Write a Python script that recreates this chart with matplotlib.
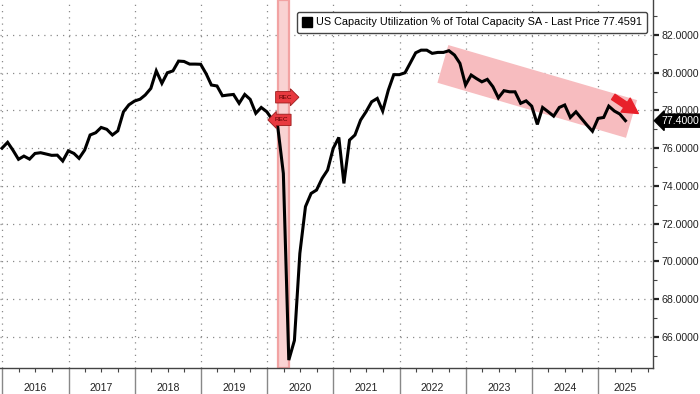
import numpy as np
import pandas as pd
import matplotlib
matplotlib.use("Agg")
import matplotlib.pyplot as plt
import matplotlib.dates as mdates
from matplotlib.lines import Line2D
from matplotlib.patches import Polygon
from matplotlib.ticker import FixedLocator, NullFormatter

plt.rcParams['font.family'] = ['Liberation Sans', 'DejaVu Sans']

# Monthly capacity utilization (month-end), Dec 2015 .. May 2025
util_2015 = [76.0]
util_2016 = [76.31, 75.9, 75.41, 75.58, 75.42, 75.72, 75.76, 75.69, 75.62, 75.63, 75.32, 75.86]
util_2017 = [75.72, 75.46, 75.9, 76.7, 76.82, 77.1, 77.0, 76.7, 76.92, 77.93, 78.3, 78.5]
util_2018 = [78.6, 78.82, 79.17, 80.1, 79.44, 80.0, 80.1, 80.62, 80.6, 80.46, 80.46, 80.45]
util_2019 = [79.93, 79.35, 79.3, 78.78, 78.82, 78.85, 78.38, 78.85, 78.59, 77.85, 78.16, 77.93]
util_2020 = [77.5, 77.14, 74.66, 64.76, 65.8, 70.42, 72.9, 73.6, 73.78, 74.4, 74.84, 75.99]
util_2021 = [76.57, 74.13, 76.43, 76.7, 77.49, 77.93, 78.46, 78.64, 77.97, 79.08, 79.9, 79.9]
util_2022 = [80.0, 80.5, 81.06, 81.2, 81.2, 81.03, 81.08, 81.08, 81.17, 80.94, 80.5, 79.35]
util_2023 = [79.88, 79.7, 79.52, 79.65, 79.26, 78.67, 79.05, 78.99, 78.99, 78.38, 78.51, 78.23]
util_2024 = [77.26, 78.16, 77.93, 77.7, 78.16, 78.29, 77.63, 77.93, 77.58, 77.22, 76.9, 77.58]
util_2025 = [77.63, 78.23, 77.97, 77.81, 77.46]

values = (util_2015 + util_2016 + util_2017 + util_2018 + util_2019 + util_2020
          + util_2021 + util_2022 + util_2023 + util_2024 + util_2025)
dates = pd.date_range('2015-12-31', periods=len(values), freq='ME')

years = list(range(2016, 2026))
y_ticks = [66, 68, 70, 72, 74, 76, 78, 80, 82]
rec_start, rec_end = '2020-03-03', '2020-04-30'
last_price = 77.4591
last_label = 77.40

# trend channel corners (date, value)
channel = [('2022-09-27', 81.47), ('2025-08-03', 78.55),
           ('2025-06-03', 76.55), ('2022-07-29', 79.47)]

fig = plt.figure(figsize=(7, 3.94), dpi=100)
ax = fig.add_axes([0, 1 - 368 / 394, 653 / 700, 368 / 394])

xmin = pd.Timestamp('2015-12-20')
xmax = pd.Timestamp('2025-10-30')
ax.set_xlim(xmin, xmax)
ax.set_ylim(64.34, 83.86)

# recession shading
ax.axvspan(pd.Timestamp(rec_start), pd.Timestamp(rec_end), facecolor='#f9d2d2',
           edgecolor='#f2a3a3', linewidth=1.6, zorder=1)

# trend channel
poly = Polygon([(mdates.date2num(pd.Timestamp(d)), v) for d, v in channel],
               closed=True, facecolor='#f7bcbf', edgecolor='none', zorder=1.5)
ax.add_patch(poly)

ax.plot(dates, values, color='black', lw=2.2, zorder=3, solid_joinstyle='miter')

# grid
for yv in y_ticks:
    ax.axhline(yv, color='#8a8a8a', lw=0.9, ls=(0, (1, 4)), zorder=0.5)
for yr in years:
    ax.axvline(pd.Timestamp(f'{yr}-01-01'), color='#8a8a8a', lw=0.9, ls=(0, (1, 4)), zorder=0.5)

# spines
for s in ['left', 'top']:
    ax.spines[s].set_visible(False)
for s in ['right', 'bottom']:
    ax.spines[s].set_color('#444444')
    ax.spines[s].set_linewidth(1.0)

# y axis on the right
ax.yaxis.tick_right()
ax.set_yticks(y_ticks)
ax.set_yticklabels([f'{v:.4f}' for v in y_ticks])
ax.yaxis.set_minor_locator(FixedLocator([65, 67, 69, 71, 73, 75, 77, 79, 81, 83]))
ax.tick_params(axis='y', which='major', length=4, width=1.6, color='#222222',
               labelsize=7.6, labelcolor='#222222', pad=2)
ax.tick_params(axis='y', which='minor', length=3, width=0.8, color='#444444')

# x axis: long separators at year starts, quarterly minor ticks
ax.xaxis.set_major_locator(mdates.YearLocator())
ax.xaxis.set_major_formatter(NullFormatter())
ax.xaxis.set_minor_locator(mdates.MonthLocator(bymonth=[4, 7, 10]))
ax.tick_params(axis='x', which='major', length=27, width=1.0, color='#888888')
ax.tick_params(axis='x', which='minor', length=3, width=0.8, color='#444444')

trans = ax.get_xaxis_transform()
for yr in years:
    start = pd.Timestamp(f'{yr}-01-01')
    end = min(pd.Timestamp(f'{yr + 1}-01-01'), xmax)
    mid = start + (end - start) / 2
    ax.text(mid, -0.055, str(yr), transform=trans, ha='center', va='center',
            fontsize=7.6, color='#222222', clip_on=False)

# recession flags
flag_kw = dict(fontsize=4.6, color='#5a0000', zorder=5)
ax.text(pd.Timestamp('2020-03-06'), 78.7, 'REC', ha='left', va='center',
        bbox=dict(boxstyle='rarrow,pad=0.5', fc='#e83a40', ec='#9b1c1c', lw=0.6), **flag_kw)
ax.text(pd.Timestamp('2020-04-25'), 77.5, 'REC', ha='right', va='center',
        bbox=dict(boxstyle='larrow,pad=0.5', fc='#e83a40', ec='#9b1c1c', lw=0.6), **flag_kw)

# trend arrow
ax.annotate('', xy=(pd.Timestamp('2025-08-10'), 77.84), xytext=(pd.Timestamp('2025-03-25'), 78.72),
            arrowprops=dict(arrowstyle='simple,head_length=1.1,head_width=1.2,tail_width=0.45',
                            fc='#e8202a', ec='#e8202a', shrinkA=0, shrinkB=0), zorder=6)

# last price tag
ax.annotate(f'{last_label:.4f}', xy=(1.0, values[-1]), xycoords=('axes fraction', 'data'),
            xytext=(6, 0), textcoords='offset points', ha='left', va='center',
            fontsize=7.6, color='white', annotation_clip=False,
            bbox=dict(boxstyle='larrow,pad=0.15', fc='black', ec='black'))

# legend
handle = Line2D([], [], marker='s', color='black', ls='none', markersize=7)
leg = ax.legend([handle], [f'US Capacity Utilization % of Total Capacity SA - Last Price {last_price:.4f}'],
                loc='upper right', bbox_to_anchor=(647 / 653, 1 - 12 / 368),
                fontsize=7.8, frameon=True, fancybox=True, handlelength=0.8,
                handletextpad=0.4, borderpad=0.5, borderaxespad=0)
leg.get_frame().set_edgecolor('#444444')
leg.get_frame().set_linewidth(1.0)
leg.get_frame().set_alpha(1)
leg.set_zorder(7)

fig.savefig('out.png', dpi=100)
